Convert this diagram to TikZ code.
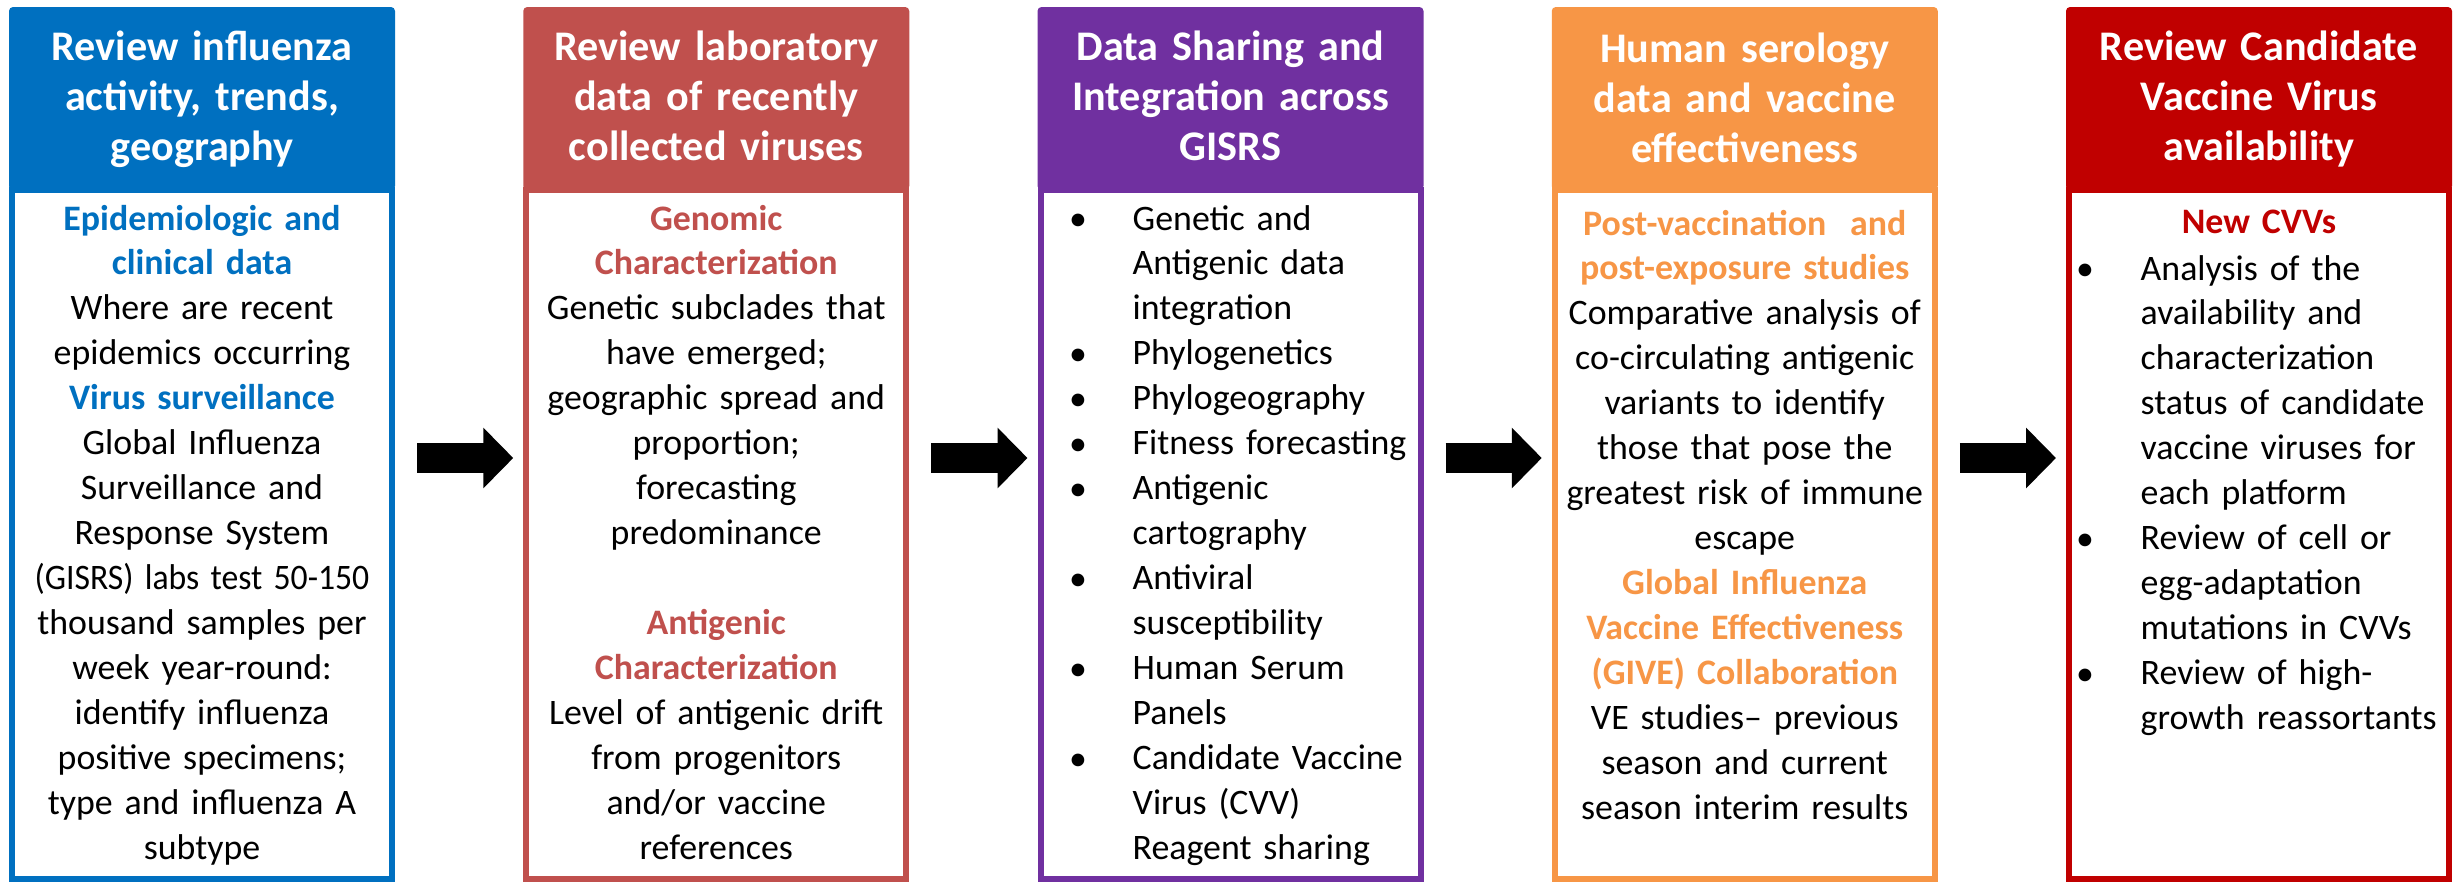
\documentclass[tikz,border=0pt]{standalone}
\usepackage{fontspec}
\setmainfont{Carlito}
\usetikzlibrary{arrows.meta}
\definecolor{flublue}{HTML}{0070C0}
\definecolor{labred}{HTML}{C0504D}
\definecolor{sharepurple}{HTML}{7030A0}
\definecolor{seroorange}{HTML}{F79646}
\definecolor{cvvred}{HTML}{C00000}
\newcommand{\sechead}[2]{{\bfseries\color{#1}#2}}

\begin{document}
\begin{tikzpicture}[
  panel/.style={draw=#1, fill=white, line width=0.06cm, minimum width=3.80cm, minimum height=6.89cm, inner sep=0pt, outer sep=0pt},
  head/.style={fill=#1, rounded corners=0.04cm, minimum width=3.86cm, minimum height=1.83cm, inner sep=0pt, outer sep=0pt},
  title/.style={anchor=base, text=white, font=\fontsize{12}{14.23}\selectfont\bfseries, text width=4.2cm, align=center, inner sep=0pt},
  body/.style={anchor=base, font=\fontsize{10.2}{12.8}\selectfont, text width=4.2cm, align=center, inner sep=0pt},
  list/.style={anchor=base west, font=\fontsize{10.2}{12.8}\selectfont, text width=3.4cm, align=left, inner sep=0pt},
  dot/.style={anchor=base, font=\fontsize{10.2}{12.8}\selectfont, inner sep=0pt},
  bigarrow/.style={line width=0.3cm, -{Triangle[length=0.3cm, width=0.59cm]}}]
  \useasboundingbox (0,0) rectangle (24.53,-8.83);

  % panels and header bars
  \foreach \i/\c in {1/flublue, 2/labred, 3/sharepurple, 4/seroorange, 5/cvvred} {
    \pgfmathsetmacro{\x}{2.02+(\i-1)*5.1425}
    \node [panel=\c] (p\i) at (\x,-5.345) {};
    \node [head=\c] (h\i) at (\x,-0.985) {};
  }

  % titles
  \node [title] (t1) at (2.02,-0.60) {Review influenza\\activity, trends,\\geography};
  \node [title] (t2) at (7.1625,-0.60) {Review laboratory\\data of recently\\collected viruses};
  \node [title] (t3) at (12.305,-0.60) {Data Sharing and\\Integration across\\GISRS};
  \node [title] (t4) at (17.4475,-0.62) {Human serology\\data and vaccine\\effectiveness};
  \node [title] (t5) at (22.59,-0.60) {Review Candidate\\Vaccine Virus\\availability};

  % panel texts
  \node [body] (x1) at (2.02,-2.30) {\sechead{flublue}{Epidemiologic and\\clinical data}\\
    Where are recent\\epidemics occurring\\
    \sechead{flublue}{Virus surveillance}\\
    Global Influenza\\Surveillance and\\Response System\\\scalebox{0.94}[1]{(GISRS) labs test 50-150}\\thousand samples per\\week year-round:\\identify influenza\\positive specimens;\\type and influenza A\\subtype};
  \node [body] (x2) at (7.1625,-2.30) {\sechead{labred}{Genomic\\Characterization}\\
    Genetic subclades that\\have emerged;\\geographic spread and\\proportion;\\forecasting\\predominance\\[0.45cm]
    \sechead{labred}{Antigenic\\Characterization}\\
    Level of antigenic drift\\from progenitors\\and/or vaccine\\references};
  \node [list] (x3) at (11.32,-2.30) {Genetic and\\Antigenic data\\integration\\Phylogenetics\\Phylogeography\\Fitness forecasting\\Antigenic\\cartography\\Antiviral\\susceptibility\\Human Serum\\Panels\\Candidate Vaccine\\Virus (CVV)\\Reagent sharing};
  \foreach \k in {0,3,4,5,6,8,10,12}
    \node [dot] (d3-\k) at (10.78,-2.30-\k*0.45) {\textbullet};
  \node [body] (x4) at (17.4475,-2.35) {\sechead{seroorange}{Post-vaccination~ and\\post-exposure studies}\\
    Comparative analysis of\\co-circulating antigenic\\variants to identify\\those that pose the\\greatest risk of immune\\escape\\
    \sechead{seroorange}{Global Influenza\\Vaccine Effectiveness\\(GIVE) Collaboration}\\
    VE studies– previous\\season and current\\season interim results};
  \node [body] (x5) at (22.59,-2.33) {\sechead{cvvred}{New CVVs}};
  \node [list] (y5) at (21.40,-2.80) {Analysis of the\\availability and\\characterization\\status of candidate\\vaccine viruses for\\each platform\\Review of cell or\\egg-adaptation\\mutations in CVVs\\Review of high-\\growth reassortants};
  \foreach \k in {0,6,9}
    \node [dot] (d5-\k) at (20.85,-2.80-\k*0.45) {\textbullet};

  % block arrows
  \coordinate (ar) at (0,-4.58);
  \foreach \i/\j in {1/2, 2/3, 3/4, 4/5}
    \draw [bigarrow] ([xshift=0.25cm]p\i.east |- ar) -- ([xshift=-0.13cm]p\j.west |- ar);
\end{tikzpicture}
\end{document}
